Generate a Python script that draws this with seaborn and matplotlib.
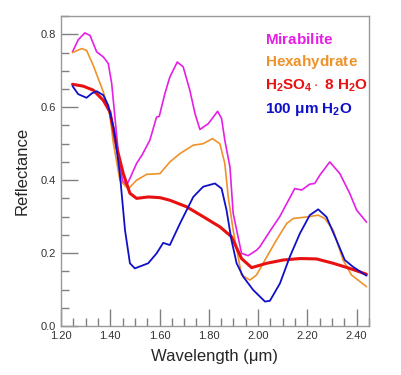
import numpy as np
import pandas as pd
import seaborn as sns
import matplotlib.pyplot as plt
from matplotlib.ticker import MultipleLocator, FormatStrFormatter

mir_wl = [1.247, 1.270, 1.297, 1.318, 1.345, 1.372, 1.392, 1.406, 1.419, 1.435, 1.450,
          1.466, 1.480, 1.507, 1.530, 1.561, 1.588, 1.599, 1.622, 1.642, 1.672, 1.696,
          1.723, 1.744, 1.764, 1.798, 1.836, 1.852, 1.865, 1.886, 1.899, 1.933, 1.960,
          1.994, 2.007, 2.048, 2.088, 2.149, 2.177, 2.210, 2.230, 2.251, 2.291, 2.332,
          2.372, 2.400, 2.440]
mir_r = [0.752, 0.785, 0.804, 0.797, 0.752, 0.738, 0.720, 0.665, 0.573, 0.460, 0.398,
         0.386, 0.405, 0.446, 0.470, 0.510, 0.573, 0.575, 0.638, 0.683, 0.724, 0.711,
         0.647, 0.583, 0.539, 0.555, 0.589, 0.569, 0.510, 0.436, 0.309, 0.199, 0.193,
         0.208, 0.217, 0.260, 0.300, 0.377, 0.373, 0.389, 0.391, 0.414, 0.450, 0.418,
         0.364, 0.318, 0.285]

hex_wl = [1.247, 1.284, 1.304, 1.331, 1.372, 1.399, 1.412, 1.439, 1.473, 1.507, 1.548,
          1.602, 1.642, 1.683, 1.737, 1.777, 1.815, 1.845, 1.865, 1.879, 1.899, 1.933,
          1.967, 1.994, 2.028, 2.075, 2.116, 2.143, 2.197, 2.244, 2.271, 2.305, 2.345,
          2.379, 2.440]
hex_r = [0.750, 0.761, 0.756, 0.715, 0.642, 0.578, 0.505, 0.400, 0.376, 0.400, 0.416,
         0.418, 0.450, 0.473, 0.496, 0.500, 0.514, 0.500, 0.446, 0.354, 0.263, 0.140,
         0.126, 0.140, 0.181, 0.236, 0.281, 0.295, 0.299, 0.304, 0.295, 0.263, 0.181,
         0.140, 0.108]

acid_wl = [1.247, 1.290, 1.331, 1.372, 1.399, 1.426, 1.453, 1.480, 1.507, 1.554, 1.602,
           1.642, 1.710, 1.777, 1.845, 1.892, 1.933, 1.974, 2.035, 2.102, 2.170, 2.237,
           2.305, 2.372, 2.440]
acid_r = [0.663, 0.658, 0.647, 0.619, 0.587, 0.491, 0.418, 0.364, 0.350, 0.354, 0.352,
          0.345, 0.327, 0.300, 0.272, 0.245, 0.185, 0.160, 0.172, 0.181, 0.185, 0.184,
          0.172, 0.158, 0.142]

ice_wl = [1.247, 1.270, 1.304, 1.325, 1.345, 1.372, 1.392, 1.415, 1.439, 1.460, 1.480,
          1.500, 1.554, 1.588, 1.615, 1.642, 1.683, 1.737, 1.777, 1.825, 1.852, 1.872,
          1.892, 1.913, 1.940, 1.980, 2.028, 2.048, 2.089, 2.129, 2.170, 2.210, 2.244,
          2.278, 2.318, 2.352, 2.386, 2.440]
ice_r = [0.658, 0.636, 0.626, 0.638, 0.644, 0.633, 0.605, 0.540, 0.418, 0.263, 0.172,
         0.158, 0.172, 0.199, 0.228, 0.222, 0.281, 0.354, 0.382, 0.391, 0.377, 0.318,
         0.236, 0.172, 0.135, 0.099, 0.067, 0.069, 0.117, 0.190, 0.254, 0.304, 0.320,
         0.299, 0.236, 0.181, 0.162, 0.138]

names = ["Mirabilite", "Hexahydrate", "H2SO4 8H2O", "100um H2O"]
colors = ["#e61ee6", "#f0922a", "#e81010", "#1010c8"]
labels = [r"$\mathbf{Mirabilite}$", r"$\mathbf{Hexahydrate}$",
          r"$\mathbf{H_2SO_4\cdot\ 8\ H_2O}$", r"$\mathbf{100\ \mu m\ H_2O}$"]

sns.set_style("white")
plt.rcParams['font.family'] = ['Liberation Sans', 'DejaVu Sans']
plt.rcParams['mathtext.fontset'] = 'custom'
plt.rcParams['mathtext.rm'] = 'Liberation Sans'
plt.rcParams['mathtext.bf'] = 'Liberation Sans:bold'
plt.rcParams['mathtext.it'] = 'Liberation Sans:italic'

fig = plt.figure(figsize=(4.01, 3.75), dpi=100)
ax = fig.add_axes([0.152, 0.1307, 0.768, 0.8263])

series = [(mir_wl, mir_r), (hex_wl, hex_r), (acid_wl, acid_r), (ice_wl, ice_r)]
widths = [1.2, 1.2, 2.2, 1.3]
for (wl, r), name, c, lw in zip(series, names, colors, widths):
    df = pd.DataFrame({"wl": wl, "r": r})
    sns.lineplot(data=df, x="wl", y="r", color=c, lw=lw, ax=ax, sort=False)

ax.set_xlim(1.20, 2.45)
ax.set_ylim(0.0, 0.85)
ax.xaxis.set_major_locator(MultipleLocator(0.2))
ax.xaxis.set_minor_locator(MultipleLocator(0.05))
ax.yaxis.set_major_locator(MultipleLocator(0.2))
ax.yaxis.set_minor_locator(MultipleLocator(0.05))
ax.xaxis.set_major_formatter(FormatStrFormatter('%.2f'))
ax.yaxis.set_major_formatter(FormatStrFormatter('%.1f'))
ax.tick_params(which='both', direction='in', colors='#808080', labelcolor='#333333',
               labelsize=8, bottom=True, left=True, top=False, right=False)
ax.tick_params(which='major', length=12, width=1)
ax.tick_params(which='minor', length=6, width=1)
for s in ax.spines.values():
    s.set_color('#999999')
    s.set_linewidth(1)

ax.set_xlabel("Wavelength (\u03bcm)", fontsize=12, labelpad=6)
ax.set_ylabel("Reflectance", fontsize=12, labelpad=8)

ty = [0.786, 0.723, 0.658, 0.595]
for lab, c, y in zip(labels, colors, ty):
    ax.text(2.028, y, lab, color=c, fontsize=11, va='center', ha='left')

fig.savefig("out.png", dpi=100)
